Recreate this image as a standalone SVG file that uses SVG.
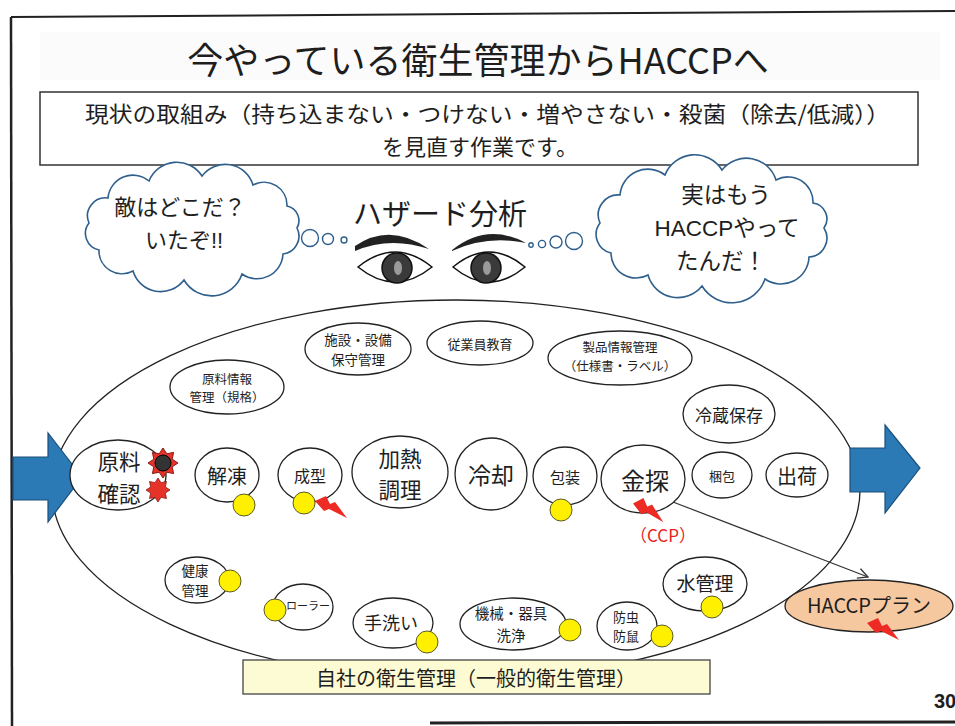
<svg xmlns="http://www.w3.org/2000/svg" width="955" height="726" viewBox="0 0 955 726">
  <style>
    text { font-family: "Noto Sans CJK JP", "Noto Sans", sans-serif; fill: #1e1e1e; }
    .node ellipse { fill: #ffffff; stroke: #222222; stroke-width: 1.3; }
    .node text { text-anchor: middle; dominant-baseline: central; }
    .cloud { fill: #ffffff; stroke: #2f5f8c; stroke-width: 1.6; }
    .bubble { fill: #ffffff; stroke: #2f5f8c; stroke-width: 1.4; }
    .ctext { font-family: "Liberation Sans", "Noto Sans CJK JP", sans-serif; text-anchor: middle; dominant-baseline: central; }
    .dot { fill: #fff000; stroke: #5a5a2a; stroke-width: 1; }
    .bolt { fill: #ee2a24; }
    .star { fill: #e5332a; stroke: #8a1a14; stroke-width: 1; }
    .flow { fill: #2b79b5; stroke: #1c4f7c; stroke-width: 1.2; }
  </style>
  <defs>
    <path id="bolt" d="M0,5 L11,0 L15,8 L20,6 L32,22 L14,13 L9,15 Z"/>
    <polygon id="star" points="15,0 9.2,3.8 10.6,10.6 3.8,9.2 0,15 -3.8,9.2 -10.6,10.6 -9.2,3.8 -15,0 -9.2,-3.8 -10.6,-10.6 -3.8,-9.2 0,-15 3.8,-9.2 10.6,-10.6 9.2,-3.8"/>
    <marker id="open-arrow" viewBox="0 0 12 12" refX="11" refY="6" markerWidth="12" markerHeight="12" markerUnits="userSpaceOnUse" orient="auto">
      <path d="M1,1 L11,6 L1,11" fill="none" stroke="#333333" stroke-width="1.3"/>
    </marker>
  </defs>

  <!-- page -->
  <rect width="955" height="726" fill="#ffffff"/>
  <line x1="11" y1="17" x2="955" y2="11" stroke="#222222" stroke-width="2"/>
  <line x1="11" y1="17" x2="12" y2="726" stroke="#222222" stroke-width="2.5"/>
  <line x1="430" y1="723" x2="955" y2="722" stroke="#222222" stroke-width="3"/>

  <!-- title -->
  <rect x="40" y="32" width="900" height="48" fill="#f6f6f6" opacity="0.45"/>
  <text x="478" y="58" font-size="36" text-anchor="middle" dominant-baseline="central">今やっている衛生管理からHACCPへ</text>

  <!-- statement box -->
  <g id="statement">
    <rect x="40" y="92" width="878" height="73" fill="#ffffff" stroke="#333333" stroke-width="1.5"/>
    <text font-size="22" dominant-baseline="central"><tspan x="85" y="112" textLength="805" lengthAdjust="spacingAndGlyphs">現状の取組み（持ち込まない・つけない・増やさない・殺菌（除去/低減））</tspan><tspan x="480" y="145" text-anchor="middle">を見直す作業です。</tspan></text>
  </g>

  <!-- thought clouds -->
  <g id="cloud-left">
    <path class="cloud" d="M297,228 A18,18 0 0 1 283,254 A26,26 0 0 1 242,274 A32,32 0 0 1 184,280 A29,29 0 0 1 133,271 A23,23 0 0 1 99,250 A17,17 0 0 1 89,223 A18,18 0 0 1 108,198 A25,25 0 0 1 149,181 A30,30 0 0 1 202,176 A29,29 0 0 1 253,185 A23,23 0 0 1 287,206 A15,15 0 0 1 297,228 Z"/>
    <circle class="bubble" cx="310" cy="238" r="8.5"/>
    <circle class="bubble" cx="328" cy="239" r="5.5"/>
    <circle class="bubble" cx="344" cy="240" r="3"/>
    <text class="ctext" font-size="22"><tspan x="180" y="207">敵はどこだ？</tspan><tspan x="184" y="240">いたぞ!!</tspan></text>
  </g>
  <g id="cloud-right">
    <circle class="bubble" cx="531" cy="245" r="2.2"/>
    <circle class="bubble" cx="542" cy="244" r="3.6"/>
    <circle class="bubble" cx="556" cy="242" r="6"/>
    <circle class="bubble" cx="574" cy="241" r="8.5"/>
    <path class="cloud" d="M824,228 A19,19 0 0 1 809,257 A28,28 0 0 1 765,279 A35,35 0 0 1 702,286 A31,31 0 0 1 648,275 A25,25 0 0 1 611,253 A19,19 0 0 1 600,223 A20,20 0 0 1 620,195 A28,28 0 0 1 665,175 A32,32 0 0 1 722,170 A31,31 0 0 1 776,180 A25,25 0 0 1 813,203 A16,16 0 0 1 824,228 Z"/>
    <text class="ctext" font-size="22.5"><tspan x="726" y="195">実はもう</tspan><tspan x="727" y="228">HACCPやって</tspan><tspan x="721" y="261">たんだ！</tspan></text>
  </g>

  <!-- hazard analysis eyes -->
  <g id="hazard-analysis">
    <text x="440" y="212" font-size="29" text-anchor="middle" dominant-baseline="central">ハザード分析</text>
    <path d="M355,246 Q390,222 429,249 Q390,236 355,251 Z" fill="#222222"/>
    <path d="M452,250 Q487,222 526,243 Q487,235 452,251 Z" fill="#222222"/>
    <path d="M358,267 Q395,237 432,267 Q395,297 358,267 Z" fill="#ffffff" stroke="#111111" stroke-width="1.5"/>
    <path d="M453,267 Q489,237 525,267 Q489,297 453,267 Z" fill="#ffffff" stroke="#111111" stroke-width="1.5"/>
    <circle cx="397" cy="268" r="15" fill="#3a3a3a" stroke="#111111" stroke-width="1.5"/>
    <ellipse cx="398" cy="268" rx="4" ry="7" fill="#9a9a9a"/>
    <circle cx="486" cy="268" r="15" fill="#3a3a3a" stroke="#111111" stroke-width="1.5"/>
    <ellipse cx="487" cy="268" rx="4" ry="7" fill="#9a9a9a"/>
  </g>

  <!-- hygiene management boundary -->
  <ellipse cx="456" cy="490" rx="404" ry="190" fill="none" stroke="#222222" stroke-width="1.3"/>

  <!-- connectors -->
  <g id="connectors">
    <line x1="673" y1="502" x2="868" y2="577" stroke="#333333" stroke-width="1.2" marker-end="url(#open-arrow)"/>
  </g>

  <!-- flow arrows -->
  <polygon class="flow" points="13,457 48,457 48,433 82,477 48,522 48,500 13,500"/>
  <polygon class="flow" points="850,448 885,448 885,425 920,468 885,513 885,492 850,492"/>

  <!-- process nodes -->
  <g id="n-genryo-kakunin" class="node">
    <ellipse cx="118" cy="475" rx="48" ry="35"/>
    <text font-size="21.5"><tspan x="119" y="460">原料</tspan><tspan x="119" y="491.5">確認</tspan></text>
    <use href="#star" class="star" transform="translate(163,463)"/>
    <circle cx="163" cy="463" r="8" fill="#333333" stroke="#000000" stroke-width="1"/>
    <use href="#star" class="star" transform="translate(158,490) scale(0.8)"/>
  </g>
  <g id="n-kaitou" class="node">
    <ellipse cx="227" cy="475" rx="32" ry="27"/>
    <text x="227" y="475" font-size="20">解凍</text>
    <circle class="dot" cx="244" cy="505" r="11"/>
  </g>
  <g id="n-seikei" class="node">
    <ellipse cx="310" cy="475" rx="32" ry="27"/>
    <text x="310" y="475" font-size="16">成型</text>
    <circle class="dot" cx="304" cy="503" r="11"/>
    <use href="#bolt" class="bolt" transform="translate(315,496)"/>
  </g>
  <g id="n-kanetsu" class="node">
    <ellipse cx="400" cy="472" rx="48" ry="36"/>
    <text font-size="21.5"><tspan x="400" y="456.5">加熱</tspan><tspan x="400" y="488">調理</tspan></text>
  </g>
  <g id="n-reikyaku" class="node">
    <ellipse cx="491" cy="474" rx="36" ry="36"/>
    <text x="491" y="474" font-size="23">冷却</text>
  </g>
  <g id="n-housou" class="node">
    <ellipse cx="565" cy="476" rx="32" ry="29"/>
    <text x="565" y="476" font-size="15">包装</text>
    <circle class="dot" cx="561" cy="510" r="11"/>
  </g>
  <g id="n-kintan" class="node">
    <ellipse cx="643" cy="479" rx="42" ry="34"/>
    <text x="645" y="479" font-size="24">金探</text>
    <use href="#bolt" class="bolt" transform="translate(633,498) scale(0.95,1.1)"/>
    <text x="663" y="534" font-size="17" style="fill:#e8221b">（CCP）</text>
  </g>
  <g id="n-konpou" class="node">
    <ellipse cx="722" cy="475" rx="30" ry="23"/>
    <text x="722" y="475" font-size="13">梱包</text>
  </g>
  <g id="n-shukka" class="node">
    <ellipse cx="797" cy="475" rx="31" ry="22"/>
    <text x="797" y="475" font-size="20">出荷</text>
  </g>

  <!-- prerequisite programme nodes -->
  <g id="n-genryo-jouhou" class="node">
    <ellipse cx="227" cy="387" rx="57" ry="27"/>
    <text font-size="12.5"><tspan x="227" y="377.5">原料情報</tspan><tspan x="227" y="396">管理（規格）</tspan></text>
  </g>
  <g id="n-shisetsu" class="node">
    <ellipse cx="358" cy="349" rx="53" ry="26"/>
    <text font-size="13.5"><tspan x="358" y="338.5">施設・設備</tspan><tspan x="358" y="358.5">保守管理</tspan></text>
  </g>
  <g id="n-kyouiku" class="node">
    <ellipse cx="480" cy="343" rx="53" ry="22"/>
    <text x="480" y="343" font-size="13">従業員教育</text>
  </g>
  <g id="n-seihin-jouhou" class="node">
    <ellipse cx="620" cy="358" rx="72" ry="27"/>
    <text font-size="12.5"><tspan x="620" y="346">製品情報管理</tspan><tspan x="620" y="364.5">（仕様書・ラベル）</tspan></text>
  </g>
  <g id="n-reizou" class="node">
    <ellipse cx="729" cy="414" rx="46" ry="29"/>
    <text x="729" y="414" font-size="17">冷蔵保存</text>
  </g>
  <g id="n-kenkou" class="node">
    <ellipse cx="197" cy="580" rx="32" ry="23"/>
    <text font-size="13.5"><tspan x="195" y="569.5">健康</tspan><tspan x="195" y="589.5">管理</tspan></text>
    <circle class="dot" cx="230" cy="581" r="11"/>
  </g>
  <g id="n-roller" class="node">
    <ellipse cx="303" cy="607" rx="30" ry="23"/>
    <text x="308" y="605" font-size="11">ローラー</text>
    <circle class="dot" cx="275" cy="610" r="11"/>
  </g>
  <g id="n-tearai" class="node">
    <ellipse cx="393" cy="623" rx="40" ry="25"/>
    <text x="391" y="622" font-size="18">手洗い</text>
    <circle class="dot" cx="427" cy="642" r="11"/>
  </g>
  <g id="n-kikai" class="node">
    <ellipse cx="513" cy="624" rx="53" ry="26"/>
    <text font-size="14.5"><tspan x="511" y="612">機械・器具</tspan><tspan x="511" y="634">洗浄</tspan></text>
    <circle class="dot" cx="570" cy="630" r="11"/>
  </g>
  <g id="n-bouchu" class="node">
    <ellipse cx="627" cy="626" rx="30" ry="24"/>
    <text font-size="13"><tspan x="626" y="615.5">防虫</tspan><tspan x="626" y="635">防鼠</tspan></text>
    <circle class="dot" cx="662" cy="636" r="11"/>
  </g>
  <g id="n-mizu" class="node">
    <ellipse cx="705" cy="584" rx="42" ry="27"/>
    <text x="705" y="582" font-size="19">水管理</text>
    <circle class="dot" cx="712" cy="607" r="11"/>
  </g>

  <!-- HACCP plan -->
  <g id="n-haccp-plan" class="node">
    <ellipse cx="869" cy="606" rx="84" ry="26" style="fill:#f6c8a0"/>
    <text x="869" y="604" font-size="20">HACCPプラン</text>
    <use href="#bolt" class="bolt" transform="translate(867,618)"/>
  </g>

  <!-- caption box -->
  <g id="caption">
    <rect x="243" y="660" width="467" height="34" fill="#fdfbd3" stroke="#444444" stroke-width="1.3"/>
    <text x="476" y="677" font-size="20" text-anchor="middle" dominant-baseline="central">自社の衛生管理（一般的衛生管理）</text>
  </g>

  <text x="934" y="708" font-size="20" font-weight="bold" style="font-family:'Liberation Sans', sans-serif">30</text>
</svg>
